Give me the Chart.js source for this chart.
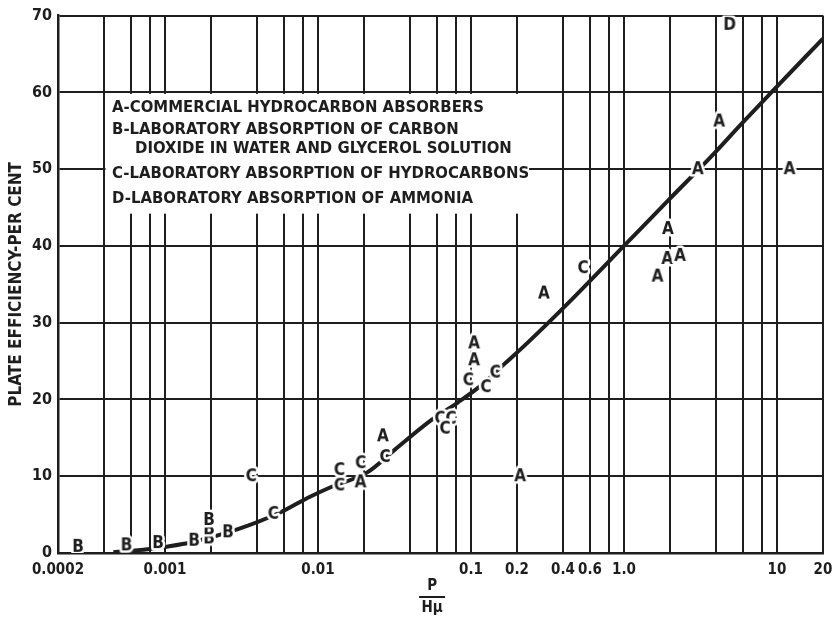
<!DOCTYPE html>
<html>
<head>
<meta charset="utf-8">
<script src="https://cdn.jsdelivr.net/npm/chart.js@4.4.1/dist/chart.umd.min.js"></script>
<style>
  html, body { margin: 0; padding: 0; background: #fff; }
  canvas { display: block; }
</style>
</head>
<body>
<canvas id="myEfficiencyChart" width="832" height="618"></canvas>
<script>
const FONT = '"DejaVu Sans Condensed", "Liberation Sans Narrow", "Arial Narrow", "DejaVu Sans", sans-serif';
const INK = "#1e1e1e";

// log axis: grid lines and the ones that carry a label
const gridX = [0.0002, 0.0004, 0.0006, 0.0008, 0.001, 0.002, 0.004, 0.006, 0.008,
  0.01, 0.02, 0.04, 0.06, 0.08, 0.1, 0.2, 0.4, 0.6, 0.8, 1, 2, 4, 6, 8, 10, 20];
const labelX = [0.0002, 0.001, 0.01, 0.1, 0.2, 0.4, 0.6, 1, 10, 20];
const labelXText = ["0.0002", "0.001", "0.01", "0.1", "0.2", "0.4", "0.6", "1.0", "10", "20"];

// A - commercial hydrocarbon absorbers
const aX = [0.019, 0.0266, 0.105, 0.105, 0.21, 0.30, 1.66, 1.92, 2.33, 1.94, 3.04, 4.2, 12.1];
const aY = [9.2, 15.2, 27.3, 25.1, 10, 33.8, 36.0, 38.3, 38.7, 42.2, 50, 56.2, 50];
// B - carbon dioxide in water and glycerol
const bX = [0.00027, 0.00056, 0.0009, 0.00155, 0.00194, 0.00194, 0.00194, 0.00258];
const bY = [0.8, 1.0, 1.3, 1.6, 1.9, 3.1, 4.3, 2.7];
// C - laboratory absorption of hydrocarbons
const cX = [0.00366, 0.0051, 0.0138, 0.0138, 0.019, 0.0274, 0.0627, 0.074, 0.0676, 0.096, 0.125, 0.144, 0.54];
const cY = [10, 5.1, 8.8, 10.8, 11.7, 12.5, 17.5, 17.5, 16.2, 22.5, 21.6, 23.5, 37.1];
// D - laboratory absorption of ammonia
const dX = [4.9];
const dY = [68.8];

// correlation curve
const curveX = [0.00046, 0.00077, 0.001, 0.0015, 0.003, 0.0057, 0.0086, 0.0122, 0.021, 0.032,
  0.055, 0.082, 0.116, 0.167, 0.235, 0.45, 1.0, 1.94, 3.7, 5.8, 9.6, 20];
const curveY = [0.1, 0.5, 0.8, 1.4, 3.1, 5.3, 7.2, 8.6, 10.5, 13.5,
  17.3, 19.6, 21.8, 24.7, 27.4, 32.9, 40, 45.9, 51.6, 55.8, 60.4, 67];

const legendLines = [
  "A-COMMERCIAL HYDROCARBON ABSORBERS",
  "B-LABORATORY ABSORPTION OF CARBON",
  "DIOXIDE IN WATER AND GLYCEROL SOLUTION",
  "C-LABORATORY ABSORPTION OF HYDROCARBONS",
  "D-LABORATORY ABSORPTION OF AMMONIA",
];
// white panel behind the key, in axis units
const boxX = [0.0004, 0.24];
const boxY = [44.2, 60];

const toPoints = (xs, ys) => xs.map((v, i) => ({ x: v, y: ys[i] }));

// letter markers with a white halo so the grid breaks round them
const makeLetter = (ch) => {
  const c = document.createElement("canvas");
  c.width = 20;
  c.height = 22;
  const g = c.getContext("2d");
  g.font = "bold 17px " + FONT;
  g.textAlign = "center";
  g.textBaseline = "middle";
  g.lineJoin = "round";
  g.strokeStyle = "#fff";
  g.lineWidth = 5;
  g.strokeText(ch, 10, 12);
  g.fillStyle = INK;
  g.fillText(ch, 10, 12);
  return c;
};

const letterSet = (ch, xs, ys) => ({
  label: ch,
  data: toPoints(xs, ys),
  pointStyle: makeLetter(ch),
  pointRadius: 8,
  showLine: false,
  order: 1,
});

const paperPlugin = {
  id: "paper",
  beforeDatasetsDraw(chart) {
    const { ctx, scales: { x, y } } = chart;
    const left = x.getPixelForValue(boxX[0]) + 1.5;
    const right = x.getPixelForValue(boxX[1]);
    const top = y.getPixelForValue(boxY[1]) + 1.5;
    const bottom = y.getPixelForValue(boxY[0]);
    ctx.save();
    ctx.fillStyle = "#fff";
    ctx.fillRect(left, top, right - left, bottom - top);
    ctx.fillStyle = INK;
    ctx.font = "bold 15px " + FONT;
    ctx.textBaseline = "middle";
    const sx = 372 / ctx.measureText(legendLines[0]).width;
    const rows = [16, 38, 57, 82, 107];
    legendLines.forEach((t, i) => {
      ctx.save();
      ctx.translate(left + 6.5 + (i === 2 ? 23 : 0), top + rows[i] - 1.5);
      ctx.scale(sx, 1);
      ctx.fillText(t, 0, 0);
      ctx.restore();
    });
    ctx.restore();
  },
  afterDraw(chart) {
    // P over H-mu under the axis
    const { ctx, scales: { x } } = chart;
    const cx = x.left + x.width * 0.489;
    ctx.save();
    ctx.fillStyle = INK;
    ctx.strokeStyle = INK;
    ctx.font = "bold 15px " + FONT;
    ctx.textAlign = "center";
    ctx.textBaseline = "middle";
    ctx.fillText("P", cx, x.top + 33);
    ctx.lineWidth = 2;
    ctx.beginPath();
    ctx.moveTo(cx - 13, x.top + 44);
    ctx.lineTo(cx + 13, x.top + 44);
    ctx.stroke();
    ctx.fillText("H\u03bc", cx, x.top + 55);
    ctx.restore();
  },
};

const ctx = document.getElementById("myEfficiencyChart").getContext("2d");
const myEfficiencyChart = new Chart(ctx, {
  type: "scatter",
  data: {
    datasets: [
      {
        label: "curve",
        data: toPoints(curveX, curveY),
        showLine: true,
        pointRadius: 0,
        borderColor: INK,
        borderWidth: 4,
        cubicInterpolationMode: "monotone",
        order: 10,
      },
      letterSet("A", aX, aY),
      letterSet("B", bX, bY),
      letterSet("C", cX, cY),
      letterSet("D", dX, dY),
    ],
  },
  options: {
    responsive: false,
    animation: false,
    events: [],
    layout: { padding: { top: 14, right: 9, left: 0, bottom: 0 } },
    plugins: {
      legend: { display: false },
      tooltip: { enabled: false },
    },
    scales: {
      x: {
        type: "logarithmic",
        min: 0.0002,
        max: 20,
        afterBuildTicks: (scale) => {
          scale.ticks = gridX.map((v) => ({ value: v }));
        },
        afterFit: (scale) => {
          scale.height = 65;
          scale.paddingRight = 9;
        },
        grid: { color: INK, lineWidth: 2, drawTicks: false },
        border: { display: true, color: INK, width: 2.5 },
        ticks: {
          autoSkip: false,
          maxRotation: 0,
          padding: 8,
          color: INK,
          font: { family: FONT, size: 15, weight: "bold" },
          callback: (value) => {
            const i = labelX.findIndex((v) => Math.abs(Math.log10(v) - Math.log10(value)) < 1e-6);
            return i >= 0 ? labelXText[i] : "";
          },
        },
      },
      y: {
        min: 0,
        max: 70,
        afterFit: (scale) => {
          scale.width = 58;
        },
        grid: { color: INK, lineWidth: 2, drawTicks: false },
        border: { display: true, color: INK, width: 2.5 },
        ticks: {
          stepSize: 10,
          padding: 6,
          color: INK,
          font: { family: FONT, size: 16, weight: "bold" },
        },
        title: {
          display: true,
          text: "PLATE EFFICIENCY-PER CENT",
          color: INK,
          padding: { top: 6, bottom: 0 },
          font: { family: FONT, size: 17, weight: "bold" },
        },
      },
    },
  },
  plugins: [paperPlugin],
});
</script>
</body>
</html>
